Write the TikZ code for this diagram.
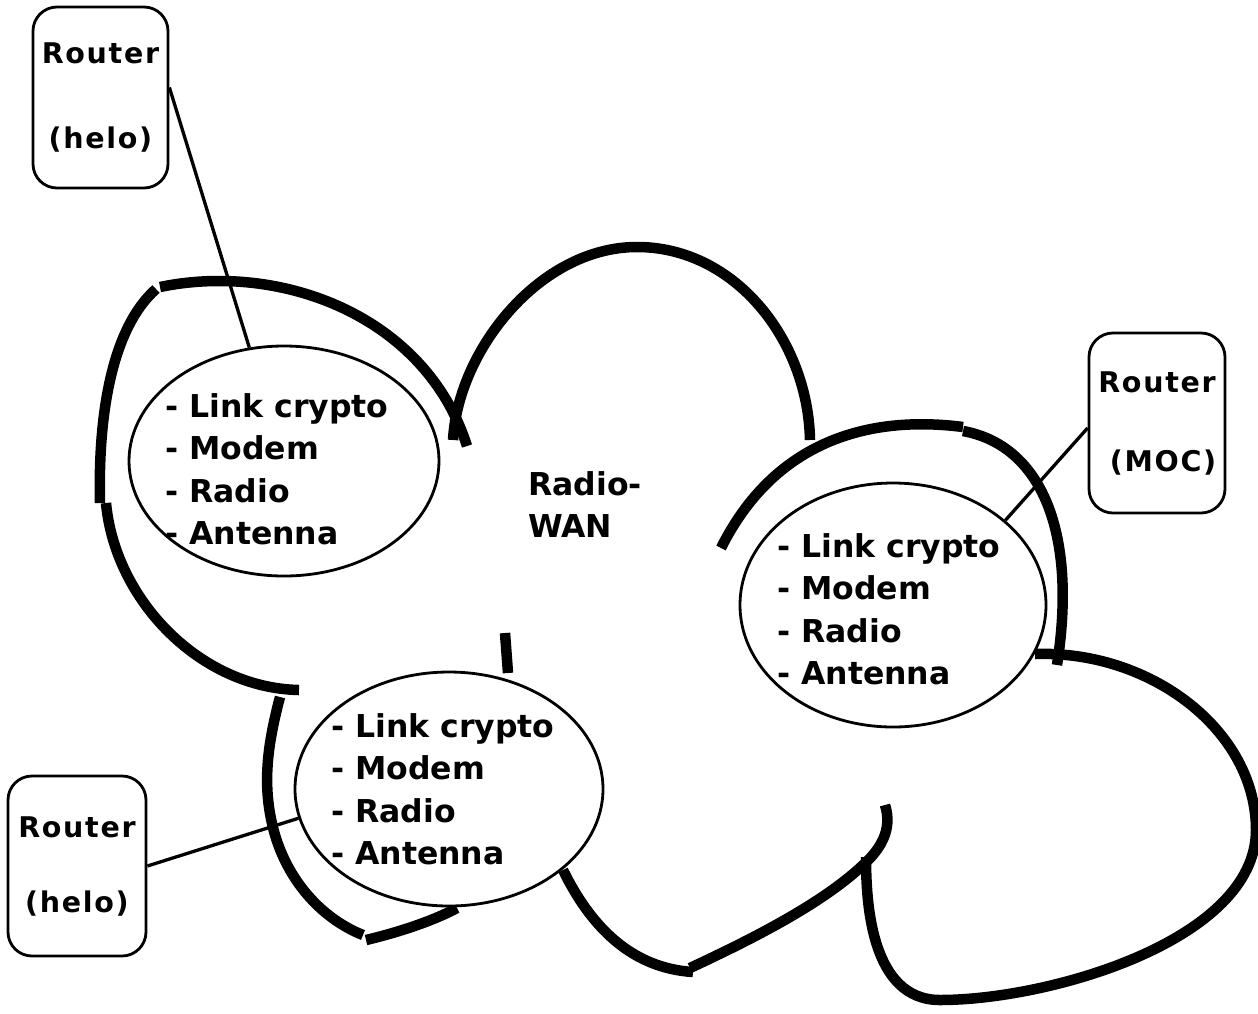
\documentclass[tikz,border=0pt]{standalone}
\usepackage{fontspec}
\usetikzlibrary{shapes.geometric}
\newfontfamily\chicfont{DejaVu Sans}
\newfontfamily\routerfont{DejaVu Sans}[LetterSpace=6]
\begin{document}
\begin{tikzpicture}[x=1pt,y=-1pt,
  cloudarc/.style={line width=10.5pt, line cap=butt, line join=round},
  unit/.style={ellipse, draw, line width=2.8pt, fill=white, inner sep=0pt},
  unittext/.style={anchor=north west, inner sep=0pt, align=left,
    font=\chicfont\bfseries\fontsize{31.5}{42.5}\selectfont},
  router/.style={draw, line width=2.8pt, rounded corners=24pt, inner sep=0pt,
    align=center, font=\routerfont\bfseries\fontsize{28.5}{#1}\selectfont},
  link/.style={line width=3.3pt}]
\useasboundingbox[fill=white] (0,0) rectangle (1258,1013);

% cloud outline
\draw[cloudarc] (299,690) .. controls (200,688) and (115,600) .. (106,503);
\draw[cloudarc] (100,503) .. controls (98,420) and (110,330) .. (156,289);
\draw[cloudarc] (160,287) .. controls (280,262) and (425,315) .. (467,446);
\draw[cloudarc] (453,440) .. controls (458,350) and (540,247) .. (637,247)
                          .. controls (735,247) and (808,340) .. (810,440);
\draw[cloudarc] (721,548) .. controls (775,440) and (870,415) .. (963,427);
\draw[cloudarc] (963,431) .. controls (1040,445) and (1078,530) .. (1057,665);
\draw[cloudarc] (1035,654) .. controls (1150,650) and (1256,730) .. (1256,830)
                           .. controls (1256,940) and (1050,1000) .. (940,1000)
                           .. controls (870,1000) and (866,900) .. (866,857);
\draw[cloudarc] (885,805) .. controls (893,830) and (880,850) .. (862,866)
                          .. controls (820,905) and (750,940) .. (690,968);
\draw[cloudarc] (563,870) .. controls (590,925) and (630,968) .. (693,972);
\draw[cloudarc] (280,697) .. controls (266,750) and (262,790) .. (275,835)
                          .. controls (290,885) and (325,920) .. (363,935);
\draw[cloudarc] (366,940) .. controls (400,932) and (435,920) .. (457,908);
\draw[cloudarc] (505,633) -- (508,673);

% units
\node[unit, minimum width=310pt, minimum height=230pt] (e1) at (284,461) {};
\node[unit, minimum width=306pt, minimum height=244pt] (e2) at (893,605) {};
\node[unit, minimum width=308pt, minimum height=234pt] (e3) at (449,789) {};

\node[unittext] (t1) at (165,393) {- Link crypto\\- Modem\\- Radio\\- Antenna};
\node[unittext] (t2) at (777,533) {- Link crypto\\- Modem\\- Radio\\- Antenna};
\node[unittext] (t3) at (331,713) {- Link crypto\\- Modem\\- Radio\\- Antenna};

\node[unittext] (wan) at (528,471) {Radio-\\WAN};

% routers
\node[router=85, minimum width=135pt, minimum height=181pt] (r1) at (100.5,97.5) {Router\\(helo)};
\node[router=79, minimum width=136pt, minimum height=180pt] (r2) at (1157,423) {Router\\\hspace*{12pt}(MOC)};
\node[router=75, minimum width=138pt, minimum height=180pt] (r3) at (77,866) {Router\\(helo)};

% connectors
\draw[link] ([yshift=10pt]r1.east) -- (e1.107);
\draw[link] ([yshift=-5pt]r2.west) -- (e2.37);
\draw[link] (r3.east) -- (e3.191);
\end{tikzpicture}
\end{document}
